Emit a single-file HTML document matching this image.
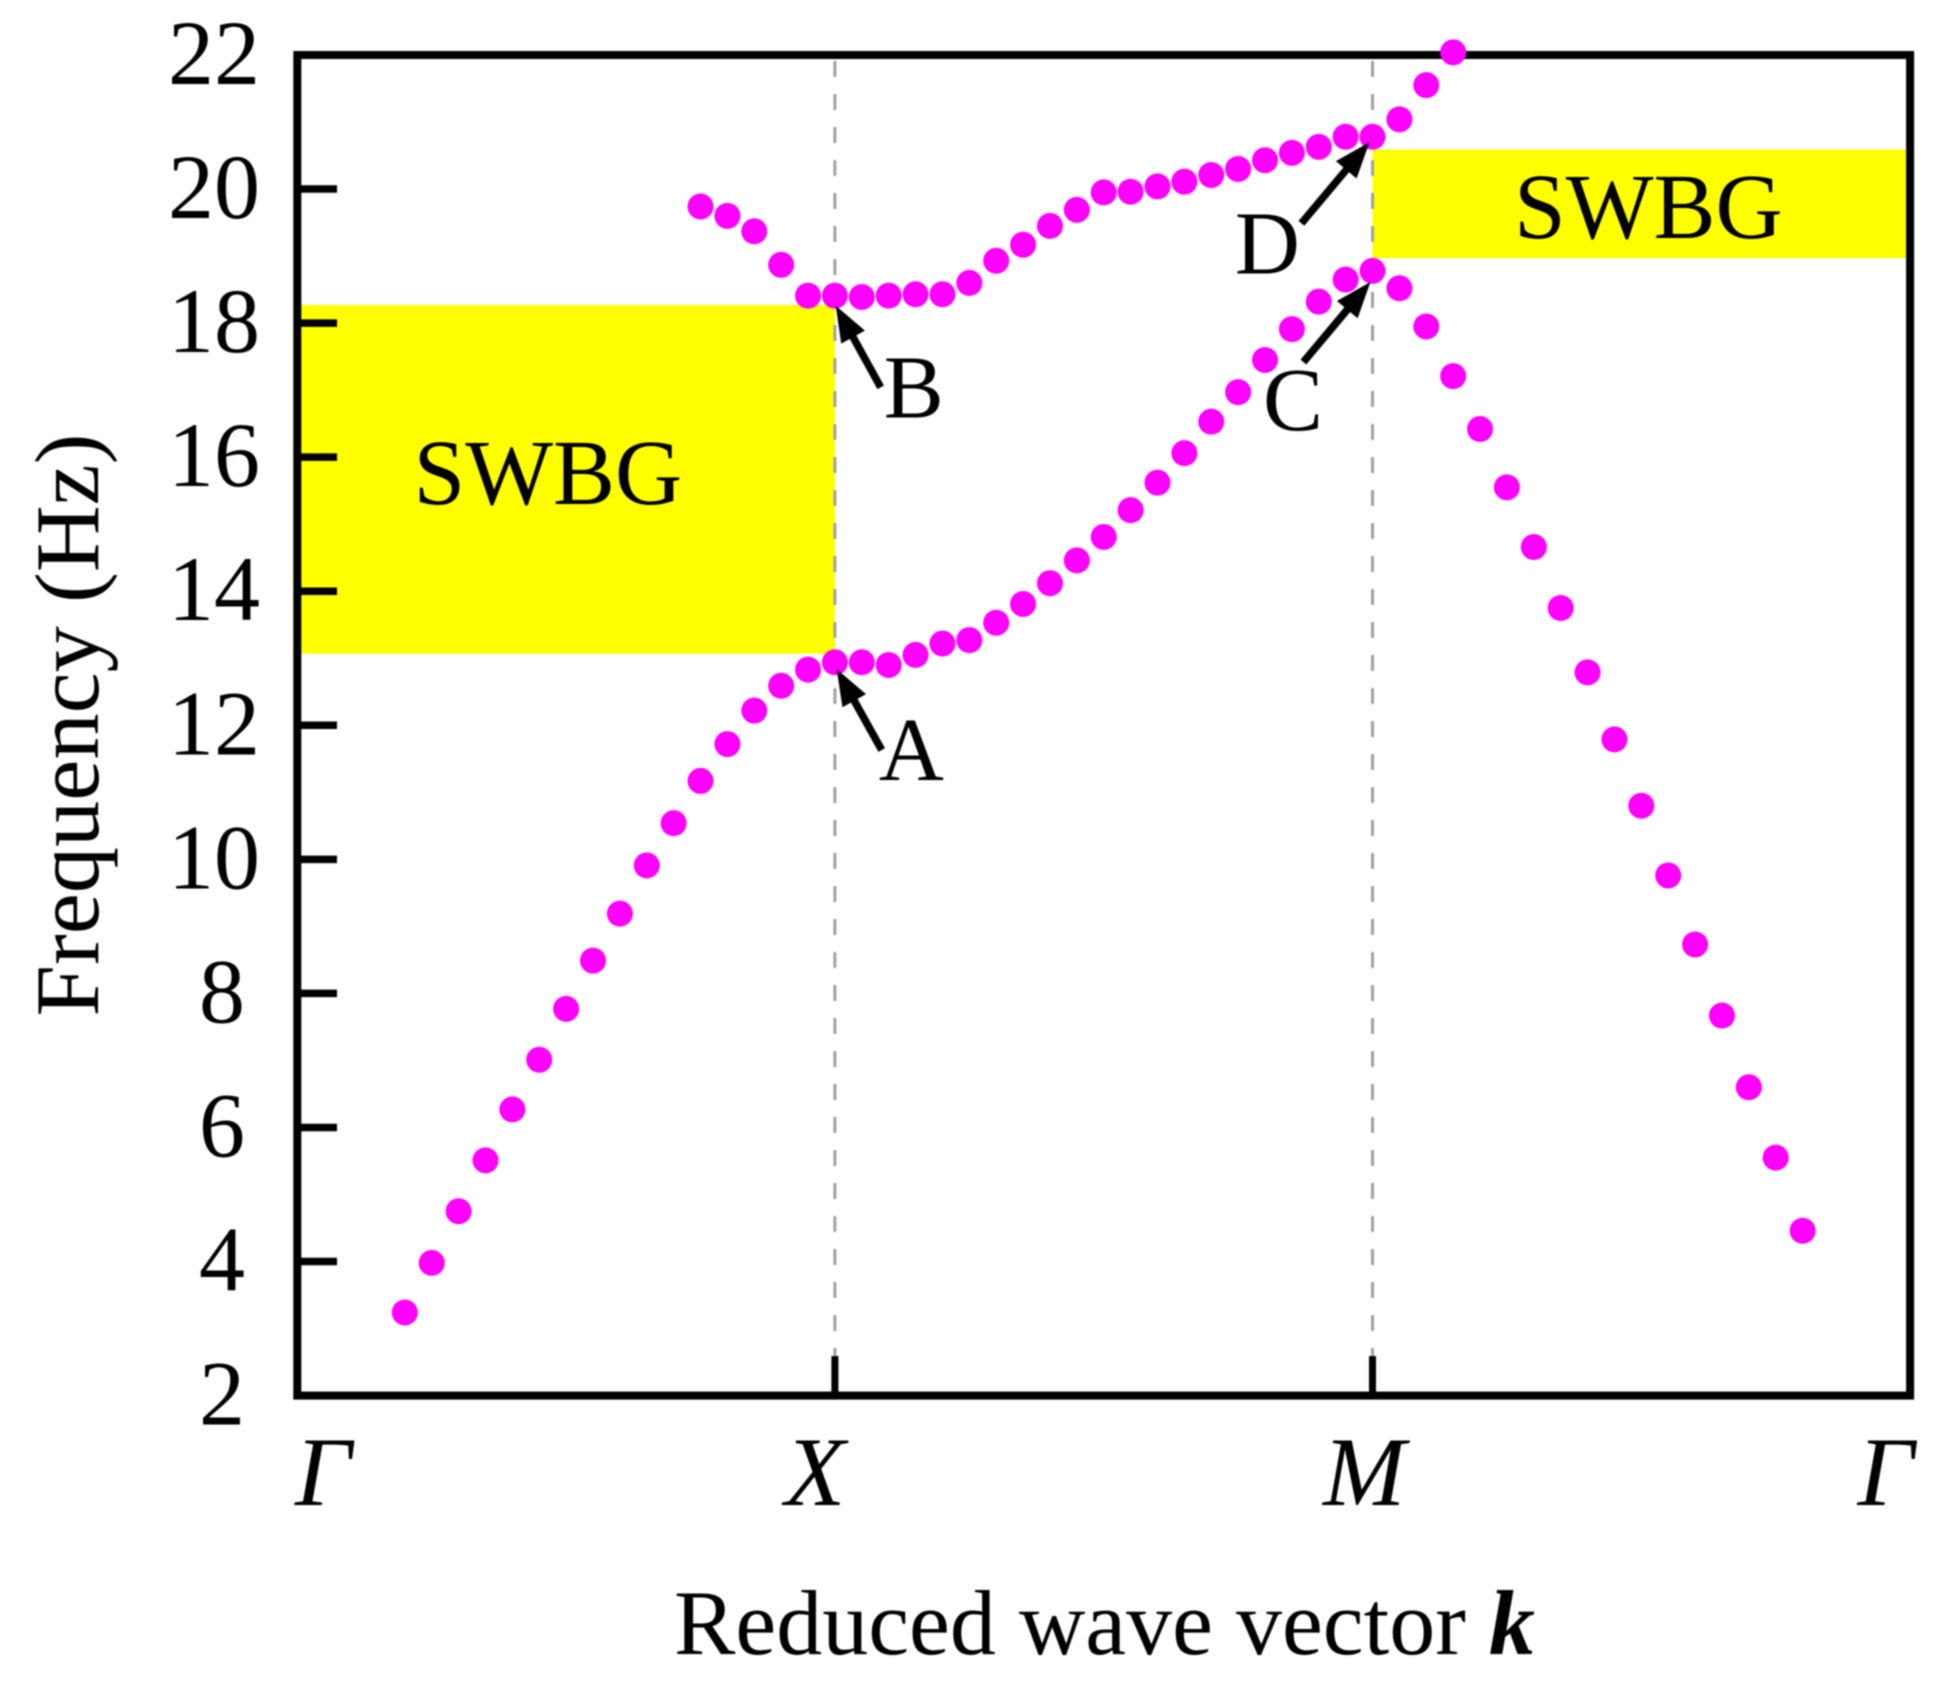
<!DOCTYPE html>
<html lang="en">
<head>
<meta charset="utf-8">
<title>Band structure chart</title>
<style>
  html, body { margin: 0; padding: 0; background: #fff; }
  svg { display: block; filter: blur(0.7px); }
  text { font-family: "Liberation Serif", serif; fill: #000; }
</style>
</head>
<body>
<svg id="chart" xmlns="http://www.w3.org/2000/svg" width="1945" height="1682" viewBox="0 0 1945 1682">
  <rect x="0" y="0" width="1945" height="1682" fill="#fff"/>
  <g id="bands"></g>
  <g id="guides"></g>
  <text x="413.5" y="504" font-size="93">SWBG</text>
  <text x="1514" y="238" font-size="93">SWBG</text>
  <g id="frame"></g>
  <g id="yticks"></g>
  <g id="xticks"></g>
  <g id="lower"></g>
  <g id="upper"></g>
  <g id="notes"></g>
  <text transform="translate(98 725) rotate(-90)" text-anchor="middle" font-size="91" textLength="583" lengthAdjust="spacingAndGlyphs">Frequency (Hz)</text>
  <text x="674" y="1654" font-size="92">Reduced wave vector <tspan font-weight="bold" font-style="italic">k</tspan></text>
</svg>
<script>
const yTickValues = [22, 20, 18, 16, 14, 12, 10, 8, 6, 4, 2];
const xTickLabels = ["Γ", "X", "M", "Γ"];
const xTickPositions = [0, 20, 40, 60];
const lowerStart = 4;
const lowerValues = [3.24, 3.98, 4.75, 5.51, 6.27, 7.01, 7.77, 8.49, 9.19, 9.91, 10.54, 11.17, 11.72, 12.22, 12.59, 12.83, 12.94, 12.94, 12.90, 13.05, 13.22, 13.27, 13.53, 13.81, 14.12, 14.46, 14.81, 15.21, 15.62, 16.06, 16.53, 16.97, 17.45, 17.91, 18.32, 18.65, 18.78, 18.52, 17.95, 17.21, 16.42, 15.55, 14.66, 13.75, 12.79, 11.79, 10.80, 9.76, 8.73, 7.67, 6.60, 5.55, 4.46];
const upperStart = 15;
const upperValues = [19.74, 19.60, 19.37, 18.87, 18.41, 18.41, 18.39, 18.41, 18.43, 18.43, 18.60, 18.93, 19.17, 19.45, 19.69, 19.95, 19.96, 20.04, 20.11, 20.21, 20.30, 20.43, 20.54, 20.63, 20.78, 20.78, 21.04, 21.55, 22.04];
const bandStarts = [0, 40];
const bandEnds = [20, 60];
const bandLows = [13.07, 18.97];
const bandHighs = [18.27, 20.59];
const noteLabels = ["A", "B", "C", "D"];
const noteK = [20, 20, 40, 40];
const noteF = [12.94, 18.41, 18.78, 20.78];

const NS = "http://www.w3.org/2000/svg";
const X0 = 297.3, XUNIT = 26.88, Y22 = 55, YUNIT = 67.03;
function xAt(k) { return X0 + k * XUNIT; }
function yAt(f) { return Y22 + (22 - f) * YUNIT; }
function make(tag, parent, attrs) {
  const el = document.createElementNS(NS, tag);
  for (const key in attrs) el.setAttribute(key, attrs[key]);
  parent.appendChild(el);
  return el;
}
const $ = id => document.getElementById(id);

// bands
bandStarts.forEach((s, i) => {
  const r = make("rect", $("bands"), { x: xAt(s), y: yAt(bandHighs[i]), width: xAt(bandEnds[i]) - xAt(s), height: yAt(bandLows[i]) - yAt(bandHighs[i]), fill: "#ffff00" });
  
  
});

// dashed guides at X and M
xTickPositions.slice(1, 3).forEach(k => {
  const l = make("line", $("guides"), { x1: xAt(k), x2: xAt(k), y1: 61, y2: yAt(2) - 40, stroke: "#a0a0a0", "stroke-width": 3, "stroke-dasharray": "16 17" });
  
  
});

// frame
const frame = make("rect", $("frame"), { x: xAt(0), y: Y22, width: xAt(60) - xAt(0), height: yAt(2) - Y22, fill: "none", stroke: "#000", "stroke-width": 8 });



// y ticks
yTickValues.forEach(v => {
  if (v !== 22 && v !== 2) {
    const t = make("line", $("yticks"), { x1: xAt(0), x2: 337, y1: yAt(v), y2: yAt(v), stroke: "#000", "stroke-width": 7.5 });
    
    
  }
  const lab = make("text", $("yticks"), { x: v >= 10 ? 260 : 245, y: yAt(v) + 29, "text-anchor": "end", "font-size": 92 });
  lab.textContent = v;
  
  
});

// x ticks
const xLabelNudges = [-2.3, -50, -49.5, -52.5];
xTickLabels.forEach((name, i) => {
  const k = xTickPositions[i];
  if (k !== 0 && k !== 60) {
    const t = make("line", $("xticks"), { x1: xAt(k), x2: xAt(k), y1: yAt(2), y2: 1356, stroke: "#000", "stroke-width": 7 });
    
    
  }
  const lab = make("text", $("xticks"), { x: xAt(k) + xLabelNudges[i], y: 1505, "font-size": 99, "font-style": "italic" });
  lab.textContent = name;
  
  
});

// series
lowerValues.forEach((f, i) => {
  const c = make("circle", $("lower"), { cx: xAt(lowerStart + i), cy: yAt(f), r: 13, fill: "#ff00ff" });
  
  
});
upperValues.forEach((f, i) => {
  const c = make("circle", $("upper"), { cx: xAt(upperStart + i), cy: yAt(f), r: 13, fill: "#ff00ff" });
  
  
});

// annotations: offsets are relative to the annotated data point
const tipDX = [1.8, 0.8, -2.1, -3.1], tipDY = [7, 10, 11.2, 5.5];
const tailDX = [46.8, 45.8, -69.1, -71.1], tailDY = [87.7, 91.7, 91.2, 86.5];
const labelDX = [44, 48.8, -109.5, -137.6], labelDY = [117.7, 121.7, 159.2, 136.5];
noteLabels.forEach((name, i) => {
  const px = xAt(noteK[i]), py = yAt(noteF[i]);
  const tx = px + tipDX[i], ty = py + tipDY[i];
  const sx = px + tailDX[i], sy = py + tailDY[i];
  const len = Math.hypot(tx - sx, ty - sy), ux = (tx - sx) / len, uy = (ty - sy) / len;
  const bx = tx - ux * 36, by = ty - uy * 36;
  const ax = make("line", $("notes"), { x1: sx, y1: sy, x2: bx + ux * 5, y2: by + uy * 5, stroke: "#000", "stroke-width": 7.5 });
  
  
  const head = make("polygon", $("notes"), { points: [tx, ty, bx - uy * 13.5, by + ux * 13.5, bx + uy * 13.5, by - ux * 13.5].join(" "), fill: "#000" });
  
  
  const lab = make("text", $("notes"), { x: px + labelDX[i], y: py + labelDY[i], "font-size": 90 });
  lab.textContent = name;
  
  
});
</script>
</body>
</html>
